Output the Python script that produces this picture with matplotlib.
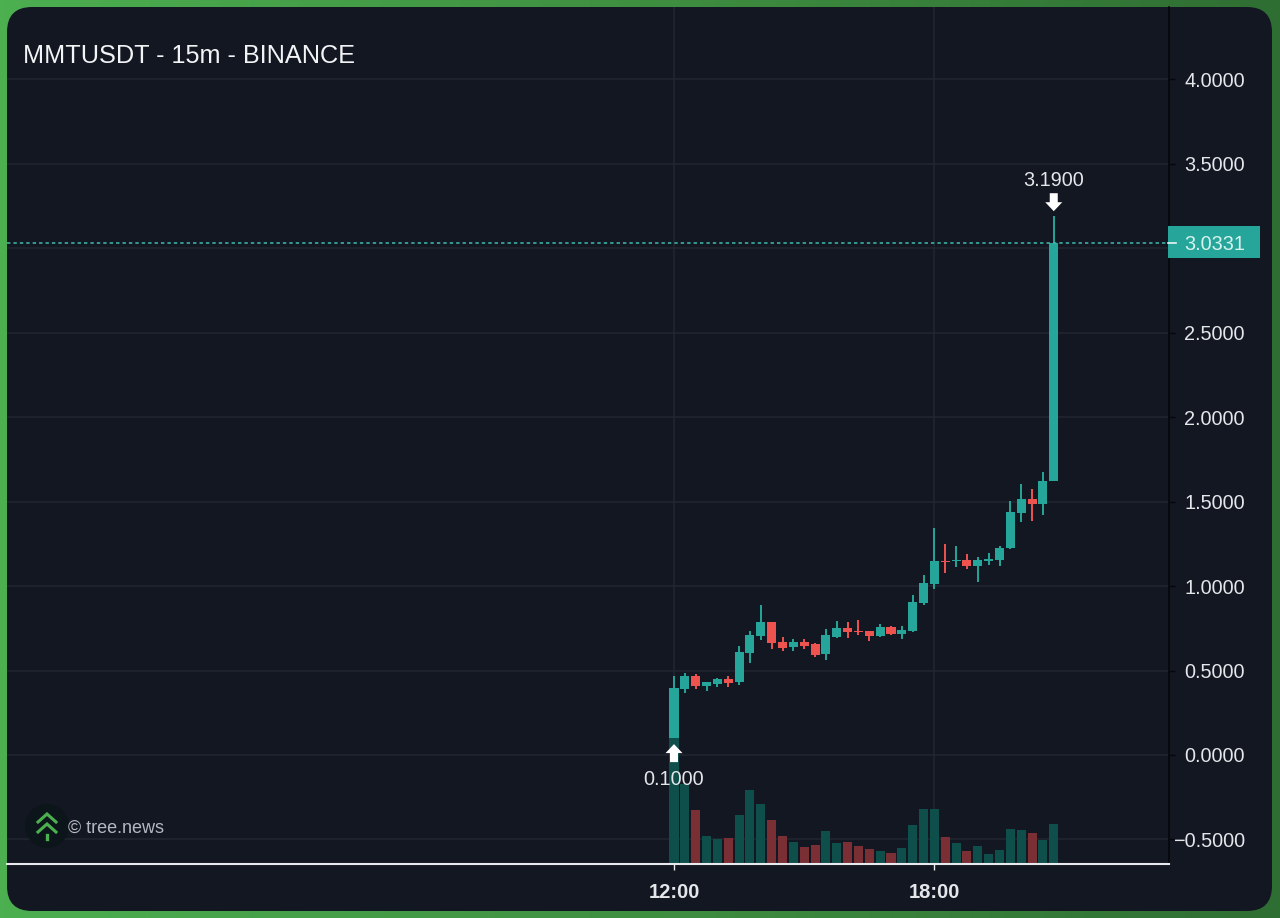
import numpy as np
import matplotlib
matplotlib.use("Agg")
import matplotlib.pyplot as plt
from matplotlib.patches import FancyBboxPatch, Polygon, Rectangle, Circle
from matplotlib.transforms import Affine2D, blended_transform_factory

# candles
opens = [0.10, 0.39, 0.47, 0.41, 0.422, 0.45, 0.43, 0.602, 0.705, 0.789, 0.667, 0.638,
         0.671, 0.657, 0.596, 0.70, 0.754, 0.736, 0.736, 0.705, 0.756, 0.715, 0.734, 0.90,
         1.014, 1.15, 1.147, 1.153, 1.121, 1.15, 1.155, 1.224, 1.433, 1.517, 1.486, 1.622]
closes = [0.395, 0.468, 0.41, 0.432, 0.45, 0.426, 0.608, 0.71, 0.789, 0.661, 0.633, 0.667,
          0.647, 0.594, 0.71, 0.752, 0.726, 0.728, 0.706, 0.756, 0.715, 0.742, 0.906, 1.018,
          1.147, 1.144, 1.155, 1.119, 1.153, 1.16, 1.227, 1.437, 1.516, 1.486, 1.622, 3.0331]
highs = [0.465, 0.484, 0.48, 0.434, 0.456, 0.466, 0.644, 0.736, 0.886, 0.789, 0.697, 0.687,
         0.685, 0.661, 0.746, 0.791, 0.786, 0.80, 0.736, 0.774, 0.764, 0.764, 0.947, 1.066,
         1.344, 1.249, 1.236, 1.19, 1.174, 1.194, 1.237, 1.506, 1.604, 1.573, 1.674, 3.19]
lows = [0.10, 0.365, 0.39, 0.377, 0.403, 0.403, 0.414, 0.547, 0.681, 0.628, 0.616, 0.616,
        0.628, 0.58, 0.562, 0.693, 0.693, 0.712, 0.677, 0.70, 0.71, 0.687, 0.726, 0.89,
        0.981, 1.076, 1.111, 1.103, 1.024, 1.127, 1.121, 1.22, 1.378, 1.384, 1.421, 1.622]
volumes = [128, 80, 54, 28.3, 25, 26.3, 49.3, 73.7, 60, 44, 28.3, 22.3, 16.7, 18.7, 33, 21.3,
           22.3, 18, 15, 13, 11.3, 16, 39.3, 55.3, 55.3, 26.7, 21.3, 12.7, 18.3, 10.3, 14.3,
           35, 34.3, 31.3, 24.3, 40]

price_ticks = [-0.5, 0.0, 0.5, 1.0, 1.5, 2.0, 2.5, 3.0, 3.5, 4.0]
time_ticks = [0, 24]
time_labels = ["12:00", "18:00"]
last_price = 3.0331
high_price = 3.19
low_price = 0.10

GREEN = "#26a69a"
RED = "#ef5350"
VOL_GREEN = "#0f4f4b"
VOL_RED = "#7a2f35"
PANEL = "#131722"
GRID = "#222631"
TEXT = "#e4e6ea"

plt.rcParams["font.family"] = ["Liberation Sans", "DejaVu Sans"]

W, H = 1280, 918
fig = plt.figure(figsize=(W / 100, H / 100), dpi=100)


def px_axes(z):
    a = fig.add_axes([0, 0, 1, 1], zorder=z)
    a.set_xlim(0, W)
    a.set_ylim(H, 0)
    a.axis("off")
    return a


# green frame and rounded panel
bg = px_axes(0)
grad = np.linspace(0, 1, 256).reshape(1, -1)
frame = matplotlib.colors.LinearSegmentedColormap.from_list("frame", ["#4caf50", "#3f8f41", "#2f6e33"])
bg.imshow(grad, cmap=frame, extent=[0, W, H, 0], aspect="auto")
bg.add_patch(FancyBboxPatch((32, 32), 1215, 854, boxstyle="round,pad=25,rounding_size=25",
                            fc=PANEL, ec="none"))
bg.set_xlim(0, W)
bg.set_ylim(H, 0)

# price axes, 7..1169 px wide and 7..864 px tall
ax = fig.add_axes([7 / W, 1 - 864 / H, 1162 / W, 857 / H], zorder=1)
ax.patch.set_alpha(0)
bar_px = 10.85
price_px = 168.9
ax.set_xlim(-(674 - 7) / bar_px, (1169 - 674) / bar_px)
ax.set_ylim(-109 / price_px, 748 / price_px)
ymin = ax.get_ylim()[0]

ax.set_axisbelow(True)
ax.grid(True, color=GRID, linewidth=1.1)

idx = np.arange(len(opens))
up = np.array(closes) >= np.array(opens)
colors = [GREEN if u else RED for u in up]
vol_colors = [VOL_GREEN if u else VOL_RED for u in up]

# volume sits on the bottom of the price pane
ax.bar(idx, np.array(volumes) / price_px, bottom=ymin, width=0.83, color=vol_colors, zorder=2)
ax.vlines(idx, lows, highs, colors=colors, linewidth=1.4, zorder=3)
body_bottom = np.minimum(opens, closes)
body_height = np.maximum(np.abs(np.array(closes) - np.array(opens)), 0.006)
ax.bar(idx, body_height, bottom=body_bottom, width=0.83, color=colors, zorder=4)

ax.axhline(last_price, color="#3dbcae", linewidth=1.1, linestyle=(0, (2.2, 2)), zorder=5)

for s in ["top", "left"]:
    ax.spines[s].set_visible(False)
ax.spines["right"].set_color("#05070a")
ax.spines["right"].set_linewidth(1.2)
ax.spines["bottom"].set_color("#e8eaee")
ax.spines["bottom"].set_linewidth(1.5)

ax.yaxis.tick_right()
ax.set_yticks(price_ticks)
# 3.0000 sits under the last price tag in the original
ax.set_yticklabels(["" if p == 3.0 else f"{p:.4f}".replace("-", "\u2212") for p in price_ticks],
                   fontsize=14.3, color=TEXT, ha="right")
ax.tick_params(axis="y", length=4, width=1, color="#05070a", pad=50.5)
ax.set_xticks(time_ticks)
ax.set_xticklabels(time_labels, fontsize=14.5, fontweight="bold", color=TEXT)
ax.tick_params(axis="x", length=4, width=1, color="#e8eaee", pad=10)

# last price tag
top = px_axes(2)
top.add_patch(Rectangle((1168, 226), 92, 32, fc=GREEN, ec="none"))
top.plot([1168, 1176], [243, 243], color="#e8f5f3", lw=1.2)
fig.canvas.draw()
tag_trans = blended_transform_factory(top.transData, ax.transData)
top.text(1245, last_price, f"{last_price:.4f}", transform=tag_trans, ha="right", va="center_baseline",
         fontsize=14.3, color="#d8f2ee")

# high and low arrows, shape in pixels around the candle tip
arrow = np.array([[-4, 0], [4, 0], [4, 9], [8.5, 9], [0, 18], [-8.5, 9], [-4, 9]])
hx, hy = ax.transData.transform((idx[-1], high_price))
ax.add_patch(Polygon(arrow * [1, -1] + [hx, hy + 23], closed=True, fc="white", ec="none",
                     transform=Affine2D(), zorder=6, clip_on=False))
lx, ly = ax.transData.transform((idx[0], low_price))
ax.add_patch(Polygon(arrow + [lx, ly - 24], closed=True, fc="white", ec="none",
                     transform=Affine2D(), zorder=6, clip_on=False))
ax.annotate(f"{high_price:.4f}", (idx[-1], high_price), xytext=(0, 36), textcoords="offset pixels",
            ha="center", va="center", fontsize=14.3, color=TEXT, zorder=7)
ax.annotate(f"{low_price:.4f}", (idx[0], low_price), xytext=(0, -41), textcoords="offset pixels",
            ha="center", va="center", fontsize=14.3, color=TEXT, zorder=7)

top.text(23, 56, "MMTUSDT - 15m - BINANCE", fontsize=18.2, color="#f2f3f5", ha="left", va="center")

# tree.news mark
top.add_patch(Circle((47, 826), 22, fc="#0c1519", ec="none"))
for dy in (0, 10):
    top.plot([38, 47, 56], [822 + dy, 814 + dy, 822 + dy], color="#4caf50", lw=2.2, solid_joinstyle="miter")
top.plot([47, 47], [835, 839], color="#4caf50", lw=2.4)
top.text(68, 828, "\u00a9 tree.news", fontsize=13, color="#b4b8c0", ha="left", va="center")

fig.savefig("out.png", dpi=100, facecolor="#3f8f41")
